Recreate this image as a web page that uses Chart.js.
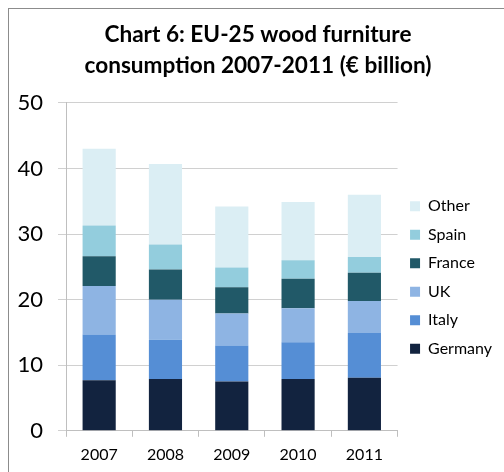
<!DOCTYPE html>
<html>
<head>
<meta charset="utf-8">
<script src="https://cdn.jsdelivr.net/npm/chart.js@4/dist/chart.umd.min.js"></script>
<style>
  body { margin: 0; background: #fff; overflow: hidden; }
  #wrap { position: relative; width: 504px; height: 472px; }
  #frame { position: absolute; left: 8px; top: 8px; width: 600px; height: 600px;
           border-top: 1px solid #8c8c8c; border-left: 1px solid #8c8c8c; }
  canvas { position: absolute; left: 0; top: 0; }
</style>
</head>
<body>
<div id="wrap">
  <div id="frame"></div>
  <canvas id="chart" width="504" height="472"></canvas>
</div>
<script>
document.addEventListener("DOMContentLoaded", function() {
  const years = ["2007", "2008", "2009", "2010", "2011"];

  // € billion
  const germany = [7.7, 7.9, 7.5, 7.9, 8.1];
  const italy = [7.0, 6.0, 5.5, 5.6, 6.8];
  const uk = [7.4, 6.1, 4.9, 5.2, 4.9];
  const france = [4.5, 4.6, 4.0, 4.5, 4.3];
  const spain = [4.7, 3.8, 3.0, 2.8, 2.4];
  const other = [11.7, 12.3, 9.3, 8.9, 9.5];

  const font = "Lato, 'Open Sans', sans-serif";

  const ctx = document.getElementById("chart").getContext("2d");
  new Chart(ctx, {
    type: 'bar',
    data: {
      labels: years,
      datasets: [
        { label: 'Germany', data: germany, backgroundColor: '#12233f' },
        { label: 'Italy', data: italy, backgroundColor: '#558ed5' },
        { label: 'UK', data: uk, backgroundColor: '#8eb4e3' },
        { label: 'France', data: france, backgroundColor: '#215968' },
        { label: 'Spain', data: spain, backgroundColor: '#93cddd' },
        { label: 'Other', data: other, backgroundColor: '#dbeef4' }
      ]
    },
    options: {
      responsive: false,
      animation: false,
      datasets: {
        bar: { categoryPercentage: 1.0, barPercentage: 0.5 }
      },
      layout: { padding: { left: 14, right: 2, top: 19, bottom: 0 } },
      plugins: {
        title: {
          display: true,
          text: ['Chart 6: EU-25 wood furniture', 'consumption 2007-2011 (€ billion)'],
          color: '#000',
          font: { family: font, size: 22.6, weight: 'bold', lineHeight: 1.37 },
          padding: { top: 0, bottom: 22 }
        },
        legend: {
          position: 'right',
          reverse: true,
          // blank title only pushes the items down to where they sit in the original
          title: { display: true, text: ' ', font: { size: 10, lineHeight: 1.2 }, padding: { top: 52, bottom: 0 } },
          labels: {
            color: '#000',
            font: { family: font, size: 16 },
            boxWidth: 10,
            boxHeight: 10,
            padding: 12.5
          }
        },
        tooltip: { enabled: false }
      },
      scales: {
        x: {
          stacked: true,
          grid: {
            offset: true,
            drawOnChartArea: false,
            color: '#bfbfbf',
            tickLength: 6
          },
          border: { color: '#bfbfbf' },
          ticks: { color: '#000', font: { family: font, size: 16 }, padding: 8 }
        },
        y: {
          stacked: true,
          min: 0,
          max: 50,
          afterFit: function(scale) { scale.width = 52; },
          ticks: { stepSize: 10, color: '#000', font: { family: font, size: 22 }, padding: 15 },
          grid: { color: '#d0d0d0', tickLength: 8 },
          border: { color: '#bfbfbf' }
        }
      }
    }
  });
});
</script>
</body>
</html>
